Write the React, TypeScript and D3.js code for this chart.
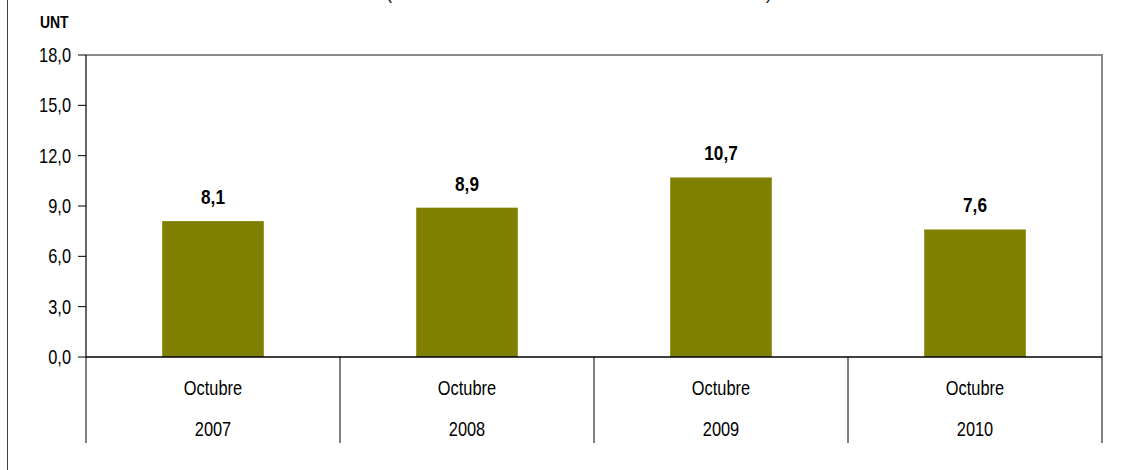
import React from "react";
import * as d3 from "d3";

const categories = ["2007", "2008", "2009", "2010"];
const months = ["Octubre", "Octubre", "Octubre", "Octubre"];
const values = [8.1, 8.9, 10.7, 7.6];
const yTicks = [0, 3, 6, 9, 12, 15, 18];
const unitLabel = "UNT";
const titleText = "(Unidades Nefelométricas de Turbiedad - UNT)";

const W = 1122;
const H = 470;
const FONT = "'Liberation Sans', Arial, sans-serif";
const SX = 0.82;

type NTProps = {
  x: number;
  y: number;
  size: number;
  anchor?: "start" | "middle" | "end";
  bold?: boolean;
  children: React.ReactNode;
};

function NText({ x, y, size, anchor = "start", bold = false, children }: NTProps) {
  return (
    <text
      transform={`translate(${x},${y}) scale(${SX},1)`}
      textAnchor={anchor}
      fontSize={size}
      fontWeight={bold ? "bold" : "normal"}
      fill="#000"
    >
      {children}
    </text>
  );
}

export default function App() {
  const left = 86;
  const right = 1102;
  const top = 55;
  const bottom = 357;

  const x = d3.scaleBand<string>().domain(categories).range([left, right]).paddingInner(0).paddingOuter(0);
  const y = d3.scaleLinear().domain([0, 18]).range([bottom, top]);
  const barW = x.bandwidth() * 0.4;
  const fmt = (v: number) => d3.format(".1f")(v).replace(".", ",");
  const separators = [...categories.map((c) => x(c) as number), right];

  return (
    <svg width={W} height={H} style={{ position: "absolute", left: 0, top: 0, background: "#fff" }} fontFamily={FONT}>
      <rect x={0} y={0} width={W} height={H} fill="#fff" />
      <line x1={7.5} x2={7.5} y1={0} y2={H} stroke="#404040" strokeWidth={1} />
      <text x={579} y={-1} textAnchor="middle" fontSize={19} fill="#222" textLength={386} lengthAdjust="spacingAndGlyphs">
        {titleText}
      </text>
      <NText x={40} y={28} size={17} bold>{unitLabel}</NText>

      <path d={`M${left},${top}H${right}V${bottom}`} fill="none" stroke="#8c8c8c" strokeWidth={2} />

      {values.map((v, i) => {
        const cx = (x(categories[i]) as number) + x.bandwidth() / 2;
        return (
          <g key={i}>
            <rect x={cx - barW / 2} y={y(v)} width={barW} height={bottom - y(v)} fill="#808000" />
            <NText x={cx} y={y(v) - 17} size={21} anchor="middle" bold>{fmt(v)}</NText>
          </g>
        );
      })}

      <line x1={left} x2={left} y1={top} y2={bottom} stroke="#000" strokeWidth={1.2} />
      {yTicks.map((t) => (
        <g key={t}>
          <line x1={left - 8} x2={left} y1={y(t)} y2={y(t)} stroke="#000" strokeWidth={1} />
          <NText x={left - 15} y={y(t) + 7} size={20} anchor="end">{fmt(t)}</NText>
        </g>
      ))}

      <line x1={left} x2={right} y1={bottom} y2={bottom} stroke="#000" strokeWidth={1.5} />
      {separators.map((sx, i) => (
        <line key={i} x1={sx} x2={sx} y1={bottom} y2={443} stroke="#000" strokeWidth={1} />
      ))}
      {categories.map((c, i) => {
        const cx = (x(c) as number) + x.bandwidth() / 2;
        return (
          <g key={c}>
            <NText x={cx} y={395} size={20} anchor="middle">{months[i]}</NText>
            <NText x={cx} y={436} size={20} anchor="middle">{c}</NText>
          </g>
        );
      })}
    </svg>
  );
}
